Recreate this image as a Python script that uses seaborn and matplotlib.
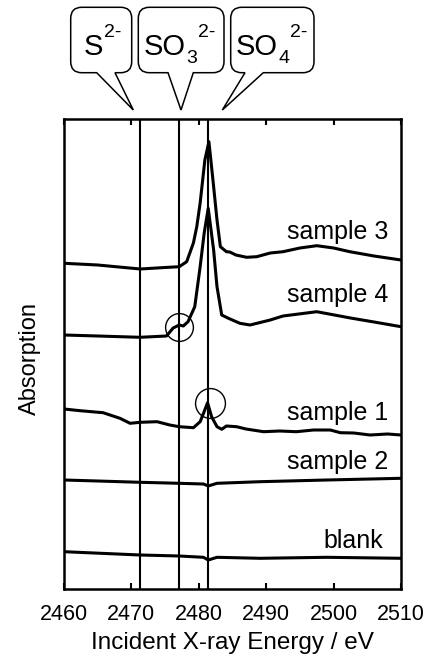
import numpy as np
import pandas as pd
import matplotlib
matplotlib.use("Agg")
import matplotlib.pyplot as plt
import seaborn as sns
from matplotlib.path import Path
from matplotlib.patches import PathPatch
from matplotlib.transforms import Affine2D

# ---------------- data (energy in eV, absorption in arbitrary stacked units) ----------------
e_sample3 = [2460, 2465, 2471.3, 2475, 2477.1, 2478.2, 2479.2, 2479.7, 2480.2, 2480.9, 2481.5,
             2482.1, 2482.7, 2483.2, 2484.1, 2484.6, 2485.5, 2487.1, 2488.6, 2490.6, 2492.5,
             2495, 2497.5, 2500, 2502.4, 2506, 2510]
a_sample3 = [3.257, 3.24, 3.20, 3.215, 3.223, 3.273, 3.46, 3.623, 3.86, 4.29, 4.473,
             4.09, 3.69, 3.423, 3.373, 3.37, 3.34, 3.317, 3.323, 3.36, 3.373,
             3.41, 3.433, 3.41, 3.373, 3.33, 3.29]

e_sample4 = [2460, 2465, 2471.3, 2475.2, 2476.2, 2477.1, 2477.7, 2478.4, 2479.4, 2480.2, 2480.8,
             2481.4, 2482.2, 2482.7, 2483.4, 2484.4, 2486.1, 2487.6, 2490.6, 2492.5, 2497.5,
             2502.5, 2506, 2510]
a_sample4 = [2.54, 2.53, 2.517, 2.53, 2.61, 2.64, 2.63, 2.673, 2.823, 3.223, 3.56,
             3.807, 3.39, 3.023, 2.74, 2.707, 2.657, 2.64, 2.69, 2.73, 2.773,
             2.71, 2.67, 2.623]

e_sample1 = [2460, 2462.4, 2465.8, 2468.3, 2469.8, 2471.3, 2473.8, 2475.7, 2477.1, 2479.2, 2480.2,
             2480.7, 2481.3, 2481.9, 2482.7, 2483.4, 2484.1, 2485.6, 2487, 2489.6, 2492, 2494.5,
             2497, 2499.5, 2501, 2503, 2505.4, 2508, 2510]
a_sample1 = [1.80, 1.783, 1.763, 1.707, 1.657, 1.667, 1.673, 1.64, 1.623, 1.613, 1.673,
             1.757, 1.863, 1.723, 1.623, 1.597, 1.63, 1.623, 1.60, 1.573, 1.58, 1.573,
             1.59, 1.59, 1.563, 1.56, 1.54, 1.55, 1.54]

e_sample2 = [2460, 2465, 2471.3, 2477.1, 2480.7, 2481.4, 2482.7, 2489.1, 2499, 2510]
a_sample2 = [1.09, 1.08, 1.067, 1.057, 1.05, 1.03, 1.057, 1.073, 1.09, 1.107]

e_blank = [2460, 2471.3, 2477.1, 2480.7, 2481.4, 2482.7, 2489.1, 2499, 2510]
a_blank = [0.373, 0.34, 0.33, 0.317, 0.29, 0.317, 0.307, 0.317, 0.307]

series_names = ["sample 3", "sample 4", "sample 1", "sample 2", "blank"]
label_y = [3.57, 2.94, 1.76, 1.27, 0.48]

line_energies = [2471.3, 2477.1, 2481.3]          # S2-, SO3 2-, SO4 2-
species_main = ["S", "SO", "SO"]
species_sub = ["", "3", "4"]
species_sup = ["2-", "2-", "2-"]

circle_e = [2477.0, 2481.6]
circle_a = [2.617, 1.857]

x_ticks = [2460, 2470, 2480, 2490, 2500, 2510]

# ---------------- style ----------------
sns.set_theme(style="white")
plt.rcParams["font.family"] = ["Liberation Sans", "DejaVu Sans"]

W, H = 427, 666
fig = plt.figure(figsize=(W / 100, H / 100), dpi=100)
ax = fig.add_axes([64 / W, 1 - 589 / H, (401 - 64) / W, (589 - 119) / H])

energies = [e_sample3, e_sample4, e_sample1, e_sample2, e_blank]
absorb = [a_sample3, a_sample4, a_sample1, a_sample2, a_blank]
frames = []
for name, e, a in zip(series_names, energies, absorb):
    frames.append(pd.DataFrame({"energy": e, "absorption": a, "series": name}))
df = pd.concat(frames, ignore_index=True)

for e in line_energies:
    ax.axvline(e, color="black", lw=1.5, zorder=1)

sns.lineplot(data=df, x="energy", y="absorption", hue="series", units="series",
             estimator=None, palette=["black"] * 5, lw=2.2, legend=False, ax=ax, zorder=3)

ax.plot(circle_e[0], circle_a[0], marker="o", ms=20, mfc="none", mec="black", mew=1.0, zorder=4)
ax.plot(circle_e[1], circle_a[1], marker="o", ms=21.5, mfc="none", mec="black", mew=1.0, zorder=4)

for name, y in zip(series_names, label_y):
    ax.text(2508.1 if name != "blank" else 2507.3, y, name, ha="right", va="center",
            fontsize=18, color="black")

ax.set_xlim(2460, 2510)
ax.set_ylim(0, 4.7)
ax.set_xticks(x_ticks)
ax.set_xticklabels([str(t) for t in x_ticks])
ax.set_yticks([])
ax.tick_params(axis="x", direction="in", top=True, bottom=True, length=4, width=1.5,
               labelsize=15.5, pad=11, colors="black")
for s in ax.spines.values():
    s.set_linewidth(1.8)
    s.set_color("black")
    s.set_visible(True)

ax.set_xlabel("Incident X-ray Energy / eV", fontsize=17.5, labelpad=5, color="black")
ax.set_ylabel("Absorption", fontsize=17, color="black")
ax.yaxis.set_label_coords(-0.068, 0.49)

# ---------------- speech-bubble callouts (figure pixel layout, top-left origin) ----------------
pix = Affine2D().scale(1 / W, -1 / H).translate(0, 1) + fig.transFigure


def bubble(x0, x1, y0, y1, r, t0, t1, tip):
    verts = [(x0 + r, y0), (x1 - r, y0), (x1, y0), (x1, y0 + r), (x1, y1 - r), (x1, y1),
             (x1 - r, y1), (t1, y1), tip, (t0, y1), (x0 + r, y1), (x0, y1), (x0, y1 - r),
             (x0, y0 + r), (x0, y0), (x0 + r, y0), (x0 + r, y0)]
    codes = [Path.MOVETO, Path.LINETO, Path.CURVE3, Path.CURVE3, Path.LINETO, Path.CURVE3,
             Path.CURVE3, Path.LINETO, Path.LINETO, Path.LINETO, Path.LINETO, Path.CURVE3,
             Path.CURVE3, Path.LINETO, Path.CURVE3, Path.CURVE3, Path.CLOSEPOLY]
    return Path(verts, codes)


boxes = [(70.7, 131.7, 96.7, 115.0, (133.3, 110)),
         (138.3, 224.0, 168.0, 193.3, (181.0, 110)),
         (230.7, 314.0, 245.0, 263.3, (222.3, 110))]
text_left = [84, 144, 236]
renderer = fig.canvas.get_renderer()
for (x0, x1, t0, t1, tip), main, sub, sup, tx in zip(boxes, species_main, species_sub,
                                                      species_sup, text_left):
    p = bubble(x0, x1, 7.3, 72.7, 11, t0, t1, tip)
    fig.patches.append(PathPatch(p, transform=pix, facecolor="white", edgecolor="black", lw=1.1))
    tm = fig.text(tx, 55, main, transform=pix, ha="left", va="baseline", fontsize=21,
                  color="black")
    bb = tm.get_window_extent(renderer)
    xr = bb.x1 + 0.5
    if sub:
        ts = fig.text(xr, 63, sub, transform=pix, ha="left", va="baseline", fontsize=14,
                      color="black")
        xr = ts.get_window_extent(renderer).x1 + 0.5
    fig.text(xr, 37, sup, transform=pix, ha="left", va="baseline", fontsize=14, color="black")

fig.savefig("out.png", dpi=100)
